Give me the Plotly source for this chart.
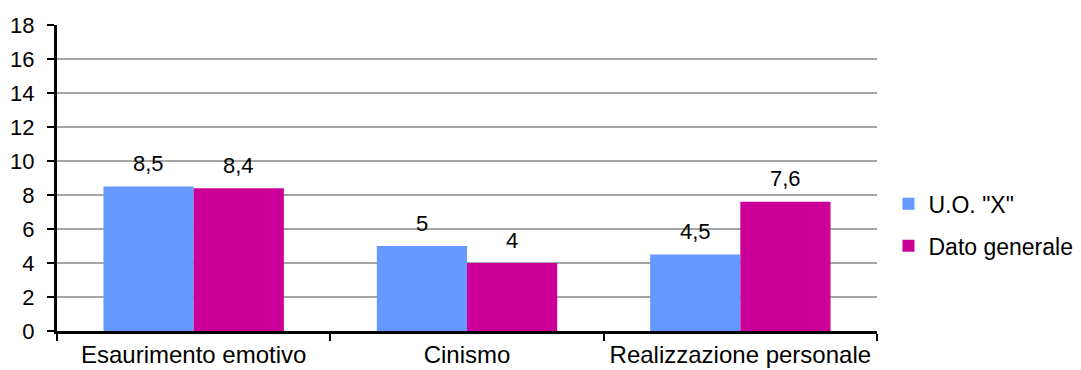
import plotly.graph_objects as go

categories = ["Esaurimento emotivo", "Cinismo", "Realizzazione personale"]
uo_x = [8.5, 5, 4.5]
dato_generale = [8.4, 4, 7.6]
series_names = ['U.O. "X"', "Dato generale"]
y_ticks = [0, 2, 4, 6, 8, 10, 12, 14, 16, 18]

colors = ["#6699FF", "#CC0099"]
FAM = "Liberation Sans, Arial, sans-serif"
font = dict(family=FAM, size=22, color="#000000")
xfont = dict(family=FAM, size=24, color="#000000")
lfont = dict(family=FAM, size=23, color="#000000")

fig = go.Figure()
for i, (name, vals) in enumerate(zip(series_names, [uo_x, dato_generale])):
    fig.add_trace(go.Bar(
        x=categories, y=vals, name=name,
        marker=dict(color=colors[i], line=dict(width=0)),
        legendgroup=f"g{i}",
    ))

def fmt(v):
    return ("%g" % v).replace(".", ",")

annotations = []
for i, vals in enumerate([uo_x, dato_generale]):
    shift = -45 if i == 0 else 45
    for c, v in zip(categories, vals):
        annotations.append(dict(
            x=c, y=v, xref="x", yref="y", text=fmt(v), showarrow=False,
            xshift=shift, yshift=23, font=font,
        ))

fig.update_layout(
    width=1081, height=370,
    margin=dict(l=57, r=204, t=25, b=39, autoexpand=False),
    plot_bgcolor="white", paper_bgcolor="white",
    barmode="group", bargap=0.34, bargroupgap=0,
    font=font,
    separators=", ",
    annotations=annotations,
    legend=dict(x=1.014, y=0.347, xanchor="left", yanchor="middle",
                font=lfont, tracegroupgap=9, itemwidth=30),
    showlegend=True,
)
fig.update_xaxes(
    type="category", tickson="boundaries", ticks="outside", ticklen=7,
    tickwidth=2, tickcolor="black", showline=True, linecolor="black",
    linewidth=3, showgrid=False, tickfont=xfont, tickangle=0, automargin=False,
)
fig.update_yaxes(
    range=[0, 18], tickvals=y_ticks, ticks="outside", ticklen=7, tickwidth=2,
    tickcolor="black", showline=True, linecolor="black", linewidth=3,
    showgrid=True, gridcolor="#A6A6A6", gridwidth=2, zeroline=False,
    tickfont=font, ticklabelstandoff=8, automargin=False,
)
fig.write_html("out.html")
